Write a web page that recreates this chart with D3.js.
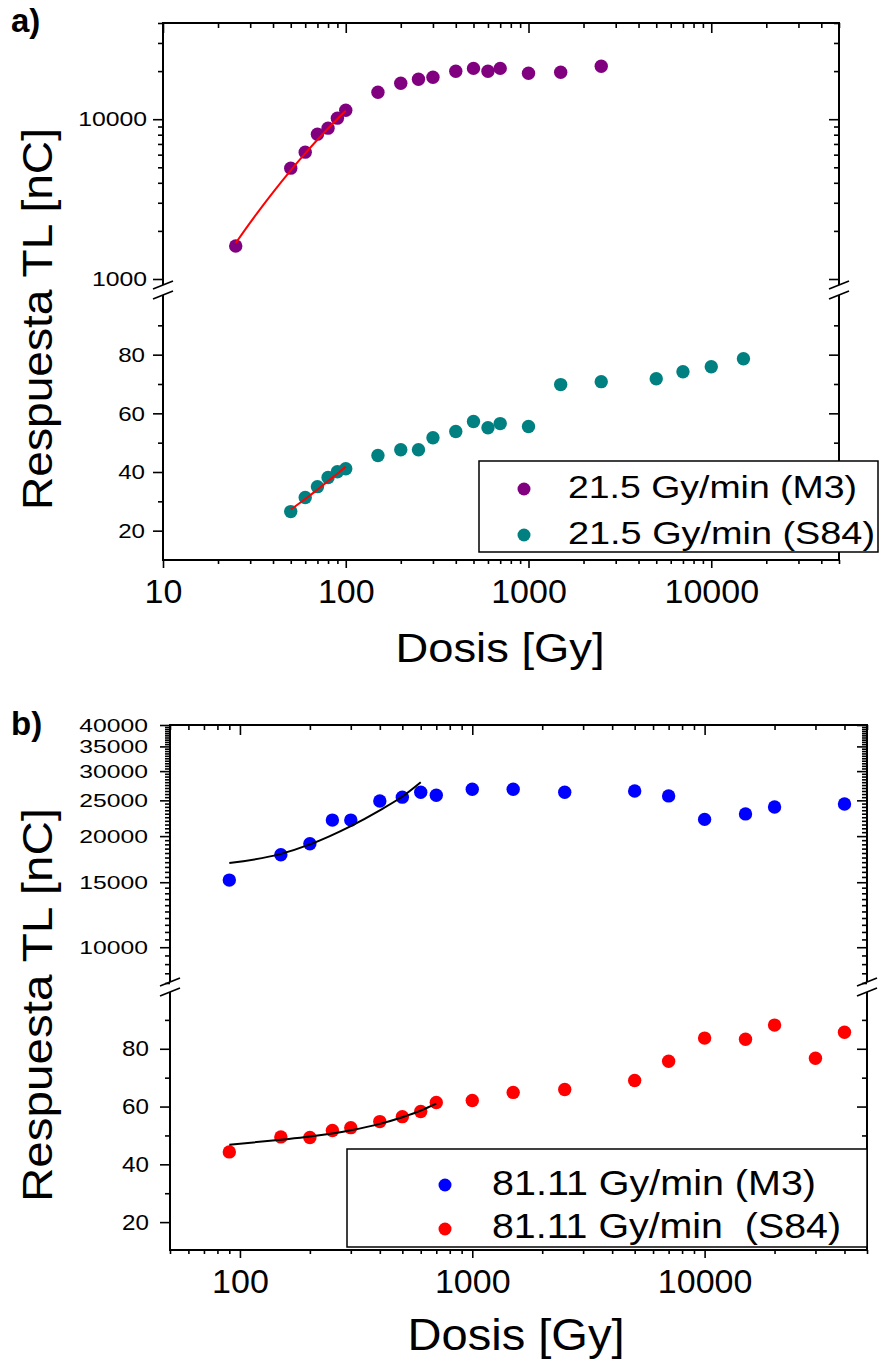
<!DOCTYPE html>
<html>
<head>
<meta charset="utf-8">
<script src="https://cdn.jsdelivr.net/npm/d3@7"></script>
<style>
  body { margin: 0; background: #fff; }
  svg { display: block; }
  text { font-family: "Liberation Sans", Arial, Helvetica, sans-serif; fill: #000; }
</style>
</head>
<body>
<svg id="chart" width="882" height="1361"></svg>
<script>
// ---------- Panel a) 21.5 Gy/min ----------
const doseA_M3 = [25, 50, 60, 70, 80, 90, 100, 150, 200, 250, 300, 400, 500, 600, 700, 1000, 1500, 2500];
const respA_M3 = [1610, 4940, 6220, 8060, 8790, 10150, 11380, 14750, 16800, 17800, 18300, 19950, 20800, 19950, 20800, 19400, 19660, 21450];
const doseA_S84 = [50, 60, 70, 80, 90, 100, 150, 200, 250, 300, 400, 500, 600, 700, 1000, 1500, 2500, 5000, 7000, 10000, 15000];
const respA_S84 = [26.5, 31.3, 35.0, 38.1, 40.1, 41.1, 45.6, 47.6, 47.6, 51.7, 53.8, 57.2, 55.1, 56.5, 55.5, 69.8, 70.8, 71.8, 74.2, 75.9, 78.6];
const fitDoseA_M3 = [25, 30, 35, 40, 50, 60, 70, 80, 90, 100];
const fitRespA_M3 = [1680, 2253, 2860, 3489, 4790, 6112, 7436, 8750, 10035, 11290];
const fitDoseA_S84 = [50, 60, 70, 80, 90, 100];
const fitRespA_S84 = [27.2, 30.8, 34.0, 36.9, 39.4, 41.8];
const legendA = ["21.5 Gy/min (M3)", "21.5 Gy/min (S84)"];

// ---------- Panel b) 81.11 Gy/min ----------
const doseB_M3 = [90, 150, 200, 250, 300, 400, 500, 600, 700, 1000, 1500, 2500, 5000, 7000, 10000, 15000, 20000, 40000];
const respB_M3 = [15200, 17800, 19070, 22100, 22100, 24900, 25500, 26300, 25800, 26800, 26800, 26300, 26500, 25700, 22200, 22970, 23990, 24430];
const doseB_S84 = [90, 150, 200, 250, 300, 400, 500, 600, 700, 1000, 1500, 2500, 5000, 7000, 10000, 15000, 20000, 30000, 40000];
const respB_S84 = [44.3, 49.5, 49.3, 51.7, 52.7, 54.8, 56.5, 58.3, 61.4, 62.1, 64.9, 65.9, 69.0, 75.7, 83.7, 83.3, 88.2, 76.7, 85.7];
const fitDoseB_M3 = [90, 150, 200, 300, 400, 500, 600];
const fitRespB_M3 = [16900, 17900, 19000, 21300, 23500, 25600, 28000];
const fitDoseB_S84 = [90, 150, 200, 300, 400, 500, 600, 700];
const fitRespB_S84 = [46.8, 48.5, 49.6, 51.8, 54.0, 56.3, 58.6, 61.0];
const legendB = ["81.11 Gy/min (M3)", "81.11 Gy/min  (S84)"];

// ---------- Tick labels ----------
const xTicksA = [10, 100, 1000, 10000];
const yTicksA_upper = [1000, 10000];
const yTicksA_lower = [20, 40, 60, 80];
const xTicksB = [100, 1000, 10000];
const yTicksB_upper = [10000, 15000, 20000, 25000, 30000, 35000, 40000];
const yTicksB_lower = [20, 40, 60, 80];

const xTitle = "Dosis [Gy]";
const yTitle = "Respuesta TL [nC]";

const svg = d3.select("#chart");
const DIGIT_EM = 0.556; // advance width of a digit in Arial-metric fonts

function fitWidth(sel, w) {
  sel.attr("textLength", w).attr("lengthAdjust", "spacingAndGlyphs");
}

// log-decade minor ticks inside [lo, hi], skipping the majors
function logMinors(lo, hi, majors) {
  const out = [];
  for (let e = Math.floor(Math.log10(lo)); e <= Math.ceil(Math.log10(hi)); e++) {
    for (let m = 1; m <= 9; m++) {
      const v = m * Math.pow(10, e);
      if (v >= lo && v <= hi && !majors.includes(v)) out.push(v);
    }
  }
  return out;
}

function styleAxis(g, w) {
  g.select(".domain").remove();
  g.selectAll(".tick line").attr("stroke", "#000").attr("stroke-width", w);
}

function panel(p) {
  const g = svg.append("g");
  const x = d3.scaleLog().domain(p.xDomain).range([p.left, p.right]);
  const yU = d3.scaleLog().domain(p.upperDomain).range(p.upperRange);
  const yL = d3.scaleLinear().domain(p.lowerDomain).range(p.lowerRange);

  const MAJ = 10, MIN = 5, TW = 1.6;

  // bottom axis: labelled, ticks outward
  const xg = g.append("g").attr("transform", `translate(0,${p.bottom})`)
    .call(d3.axisBottom(x).tickValues(p.xTicks).tickSize(8).tickPadding(11).tickFormat(d3.format("d")));
  styleAxis(xg, TW);
  xg.selectAll("text").attr("font-size", 34).attr("font-family", null);
  const xm = g.append("g").attr("transform", `translate(0,${p.bottom})`)
    .call(d3.axisBottom(x).tickValues(p.xMinors).tickSize(4).tickFormat(""));
  styleAxis(xm, TW);

  // top axis: mirror, ticks point down into the plot
  const tg = g.append("g").attr("transform", `translate(0,${p.top})`)
    .call(d3.axisBottom(x).tickValues(p.xTicks).tickSize(MAJ).tickFormat(""));
  styleAxis(tg, TW);
  const tm = g.append("g").attr("transform", `translate(0,${p.top})`)
    .call(d3.axisBottom(x).tickValues(p.xMinors).tickSize(MIN).tickFormat(""));
  styleAxis(tm, TW);

  // left and right y axes, upper (log) and lower (linear) sections
  const sections = [
    { scale: yU, majors: p.yTicksUpper, minors: p.yMinorsUpper, fs: p.upperFont, k: p.upperStretch, pad: p.upperPad },
    { scale: yL, majors: p.yTicksLower, minors: p.yMinorsLower, fs: p.lowerFont, k: p.lowerStretch, pad: p.lowerPad }
  ];
  sections.forEach(s => {
    const lg = g.append("g").attr("transform", `translate(${p.left},0)`)
      .call(d3.axisLeft(s.scale).tickValues(s.majors).tickSize(MAJ).tickPadding(s.pad).tickFormat(d3.format("d")));
    styleAxis(lg, TW);
    lg.selectAll("text")
      .attr("font-size", s.fs).attr("font-family", null)
      .attr("textLength", d => String(d).length * DIGIT_EM * s.fs * s.k)
      .attr("lengthAdjust", "spacingAndGlyphs");
    const lm = g.append("g").attr("transform", `translate(${p.left},0)`)
      .call(d3.axisLeft(s.scale).tickValues(s.minors).tickSize(MIN).tickFormat(""));
    styleAxis(lm, TW);
    const rg = g.append("g").attr("transform", `translate(${p.right},0)`)
      .call(d3.axisLeft(s.scale).tickValues(s.majors).tickSize(MAJ).tickFormat(""));
    styleAxis(rg, TW);
    const rm = g.append("g").attr("transform", `translate(${p.right},0)`)
      .call(d3.axisLeft(s.scale).tickValues(s.minors).tickSize(MIN).tickFormat(""));
    styleAxis(rm, TW);
  });

  // frame with axis breaks
  const b1 = p.breakY - 5, b2 = p.breakY + 5;
  const frame = g.append("g").attr("stroke", "#000").attr("stroke-width", 2).attr("fill", "none");
  frame.append("line").attr("x1", p.left - 1).attr("x2", p.right + 1).attr("y1", p.top).attr("y2", p.top);
  frame.append("line").attr("x1", p.left - 1).attr("x2", p.right + 1).attr("y1", p.bottom).attr("y2", p.bottom);
  [p.left, p.right].forEach(ax => {
    frame.append("line").attr("x1", ax).attr("x2", ax).attr("y1", p.top).attr("y2", b1);
    frame.append("line").attr("x1", ax).attr("x2", ax).attr("y1", b2).attr("y2", p.bottom);
    [b1, b2].forEach(by => {
      frame.append("line").attr("stroke-width", 1.8)
        .attr("x1", ax - 10).attr("y1", by + 4).attr("x2", ax + 10).attr("y2", by - 4);
    });
  });

  // data points
  const pts = g.append("g");
  pts.selectAll("circle.u").data(p.upper.dose.map((d, i) => [d, p.upper.resp[i]]))
    .join("circle").attr("class", "u")
    .attr("cx", d => x(d[0])).attr("cy", d => yU(d[1])).attr("r", 6.7).attr("fill", p.upper.color);
  pts.selectAll("circle.l").data(p.lower.dose.map((d, i) => [d, p.lower.resp[i]]))
    .join("circle").attr("class", "l")
    .attr("cx", d => x(d[0])).attr("cy", d => yL(d[1])).attr("r", 6.7).attr("fill", p.lower.color);

  // fitted curves
  const lineU = d3.line().x(d => x(d[0])).y(d => yU(d[1])).curve(d3.curveMonotoneX);
  const lineL = d3.line().x(d => x(d[0])).y(d => yL(d[1])).curve(d3.curveMonotoneX);
  g.append("path").datum(p.upper.fitDose.map((d, i) => [d, p.upper.fitResp[i]]))
    .attr("d", lineU).attr("fill", "none").attr("stroke", p.fitColor).attr("stroke-width", 2);
  g.append("path").datum(p.lower.fitDose.map((d, i) => [d, p.lower.fitResp[i]]))
    .attr("d", lineL).attr("fill", "none").attr("stroke", p.fitColor).attr("stroke-width", 2);

  // titles
  g.append("text").attr("x", p.xTitleX).attr("y", p.xTitleY).attr("text-anchor", "middle")
    .attr("font-size", p.xTitleFont).text(xTitle).call(fitWidth, p.xTitleW);
  g.append("text").attr("transform", `translate(52,${p.yTitleY}) rotate(-90)`).attr("text-anchor", "middle")
    .attr("font-size", 43).text(yTitle).call(fitWidth, p.yTitleW);
  g.append("text").attr("x", 11).attr("y", p.tagY).attr("font-size", 33).attr("font-weight", "bold").text(p.tag);

  // legend
  const L = p.legend;
  const lgd = g.append("g");
  lgd.append("rect").attr("x", L.x0).attr("y", L.y0).attr("width", L.x1 - L.x0).attr("height", L.y1 - L.y0)
    .attr("fill", "#fff").attr("stroke", "#000").attr("stroke-width", 1.5);
  [p.upper.color, p.lower.color].forEach((c, i) => {
    lgd.append("circle").attr("cx", L.mx).attr("cy", L.my[i]).attr("r", 6.5).attr("fill", c);
    lgd.append("text").attr("x", L.tx).attr("y", L.ty[i]).attr("font-size", L.fs)
      .style("white-space", "pre").text(L.labels[i]).call(fitWidth, L.tw[i]);
  });
}

// Panel a
panel({
  tag: "a)", tagY: 32,
  left: 163, right: 839, top: 23, bottom: 560,
  xDomain: [10, 50000], xTicks: xTicksA, xMinors: logMinors(10, 50000, xTicksA),
  upperDomain: [1000, 40000], upperRange: [279, 23],
  lowerDomain: [10, 100], lowerRange: [560, 296],
  breakY: 290,
  yTicksUpper: yTicksA_upper, yMinorsUpper: logMinors(1000, 40000, yTicksA_upper),
  yTicksLower: yTicksA_lower, yMinorsLower: [30, 50, 70, 90],
  upperFont: 21, upperStretch: 1.18, upperPad: 6,
  lowerFont: 21, lowerStretch: 1.15, lowerPad: 8,
  upper: { dose: doseA_M3, resp: respA_M3, fitDose: fitDoseA_M3, fitResp: fitRespA_M3, color: "#800080" },
  lower: { dose: doseA_S84, resp: respA_S84, fitDose: fitDoseA_S84, fitResp: fitRespA_S84, color: "#008080" },
  fitColor: "#ff0000",
  xTitleX: 500, xTitleY: 662, xTitleFont: 41, xTitleW: 209,
  yTitleY: 319, yTitleW: 382,
  legend: { x0: 479, x1: 878, y0: 461, y1: 552, mx: 524, my: [489, 535], tx: 568, ty: [498, 544],
            fs: 32, tw: [289, 307], labels: legendA }
});

// Panel b
panel({
  tag: "b)", tagY: 735,
  left: 170, right: 867, top: 725, bottom: 1250,
  xDomain: [50, 50000], xTicks: xTicksB, xMinors: logMinors(50, 50000, xTicksB),
  upperDomain: [8000, 40000], upperRange: [983, 725],
  lowerDomain: [10, 100], lowerRange: [1251, 991],
  breakY: 987,
  yTicksUpper: yTicksB_upper, yMinorsUpper: d3.range(8000, 40001, 500).filter(v => !yTicksB_upper.includes(v)),
  yTicksLower: yTicksB_lower, yMinorsLower: [30, 50, 70, 90],
  upperFont: 19, upperStretch: 1.3, upperPad: 12,
  lowerFont: 22, lowerStretch: 1.1, lowerPad: 11,
  upper: { dose: doseB_M3, resp: respB_M3, fitDose: fitDoseB_M3, fitResp: fitRespB_M3, color: "#0000ff" },
  lower: { dose: doseB_S84, resp: respB_S84, fitDose: fitDoseB_S84, fitResp: fitRespB_S84, color: "#ff0000" },
  fitColor: "#000000",
  xTitleX: 516, xTitleY: 1350, xTitleFont: 44, xTitleW: 217,
  yTitleY: 1005, yTitleW: 394,
  legend: { x0: 347, x1: 867, y0: 1149, y1: 1247, mx: 445, my: [1185, 1229], tx: 492, ty: [1195, 1238],
            fs: 35, tw: [324, 349], labels: legendB }
});
</script>
</body>
</html>
